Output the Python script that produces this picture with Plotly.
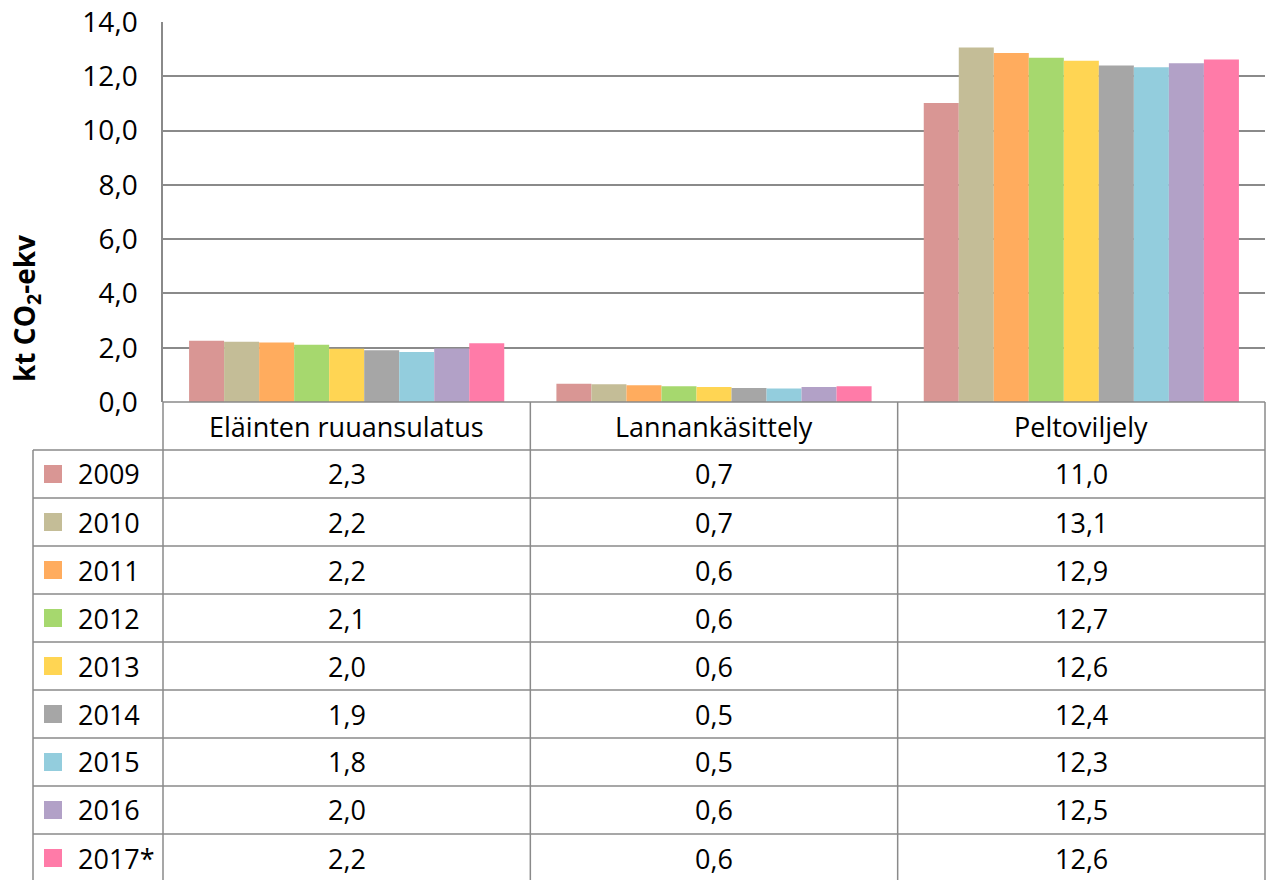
import plotly.graph_objects as go
from decimal import Decimal, ROUND_HALF_UP

categories = ["Eläinten ruuansulatus", "Lannankäsittely", "Peltoviljely"]
years = ["2009", "2010", "2011", "2012", "2013", "2014", "2015", "2016", "2017*"]
v2009 = [2.26, 0.67, 11.02]
v2010 = [2.22, 0.65, 13.06]
v2011 = [2.19, 0.62, 12.86]
v2012 = [2.11, 0.58, 12.68]
v2013 = [1.96, 0.55, 12.57]
v2014 = [1.91, 0.52, 12.40]
v2015 = [1.84, 0.50, 12.33]
v2016 = [1.97, 0.55, 12.48]
v2017 = [2.16, 0.58, 12.62]
series = [v2009, v2010, v2011, v2012, v2013, v2014, v2015, v2016, v2017]
colors = ["#D99694", "#C4BD97", "#FFAC5E", "#A6D86E", "#FFD553",
          "#A6A6A6", "#93CDDD", "#B2A1C7", "#FF7BA8"]
y_ticks = [0, 2, 4, 6, 8, 10, 12, 14]

W, H = 1267, 880
L, R, T, B = 163, 2, 22, 478
PW = W - L - R
PH = H - T - B
FONT = "Open Sans"
LINE = "#8a8a8a"


def px(x):
    return (x - L) / PW


def py(y):
    return (H - B - y) / PH


def fmt(v):
    return str(Decimal(str(v)).quantize(Decimal("0.1"), rounding=ROUND_HALF_UP)).replace(".", ",")


fig = go.Figure()
for name, vals, col in zip(years, series, colors):
    fig.add_trace(go.Bar(x=categories, y=vals, name=name, marker_color=col,
                         marker_line_width=0, showlegend=False))

fig.update_layout(
    width=W, height=H,
    margin=dict(l=L, r=R, t=T, b=B, pad=0),
    paper_bgcolor="white", plot_bgcolor="white",
    barmode="group", bargap=0.142, bargroupgap=0,
    separators=", ",
    font=dict(family=FONT, size=27, color="black"),
    xaxis=dict(showticklabels=False, showgrid=False, ticks="", showline=False,
               zeroline=False, range=[-0.5, 2.5]),
    yaxis=dict(range=[0, 14], tickvals=y_ticks, tickformat=".1f",
               showgrid=True, gridcolor=LINE, gridwidth=1.5,
               showline=True, linecolor=LINE, linewidth=1.5,
               zeroline=False, ticks="", ticklabelstandoff=18,
               tickfont=dict(family=FONT, size=28, color="black")),
)

shapes = []
annotations = []
col_x = [L + i * PW / 3 for i in range(4)]
header_top = H - B
row0 = header_top + 48
row_h = 48
legend_left = 33
bottom = row0 + row_h * len(years)


def hline(x0, x1, y):
    shapes.append(dict(type="line", xref="paper", yref="paper",
                       x0=px(x0), x1=px(x1), y0=py(y), y1=py(y),
                       line=dict(color=LINE, width=1.5)))


def vline(x, y0, y1):
    shapes.append(dict(type="line", xref="paper", yref="paper",
                       x0=px(x), x1=px(x), y0=py(y0), y1=py(y1),
                       line=dict(color=LINE, width=1.5)))


hline(L, W - R, header_top)
for i in range(len(years) + 1):
    hline(legend_left, W - R, row0 + i * row_h)
for cx in col_x:
    vline(cx, header_top, bottom)
vline(legend_left, row0, bottom)

for i, c in enumerate(categories):
    annotations.append(dict(xref="paper", yref="paper",
                            x=px((col_x[i] + col_x[i + 1]) / 2),
                            y=py(header_top + 24), text=c, showarrow=False,
                            xanchor="center", yanchor="middle",
                            font=dict(family=FONT, size=27, color="black")))

for r, (name, vals, col) in enumerate(zip(years, series, colors)):
    cy = row0 + r * row_h + row_h / 2
    shapes.append(dict(type="rect", xref="paper", yref="paper",
                       x0=px(44), x1=px(62), y0=py(cy - 9), y1=py(cy + 9),
                       fillcolor=col, line=dict(width=0)))
    annotations.append(dict(xref="paper", yref="paper", x=px(76), y=py(cy),
                            text=name, showarrow=False, xanchor="left",
                            yanchor="middle",
                            font=dict(family=FONT, size=27, color="black")))
    for i, v in enumerate(vals):
        annotations.append(dict(xref="paper", yref="paper",
                                x=px((col_x[i] + col_x[i + 1]) / 2), y=py(cy),
                                text=fmt(v), showarrow=False,
                                xanchor="center", yanchor="middle",
                                font=dict(family=FONT, size=27, color="black")))

annotations.append(dict(xref="paper", yref="paper", x=px(26), y=py(309),
                        text="<b>kt CO<sub>2</sub>-ekv</b>", showarrow=False,
                        textangle=-90, xanchor="center", yanchor="middle",
                        font=dict(family=FONT, size=28, color="black")))

fig.update_layout(shapes=shapes, annotations=annotations)
fig.write_html("out.html", config={"displayModeBar": False},
               post_script="document.body.style.margin='0';document.body.style.overflow='hidden';")
